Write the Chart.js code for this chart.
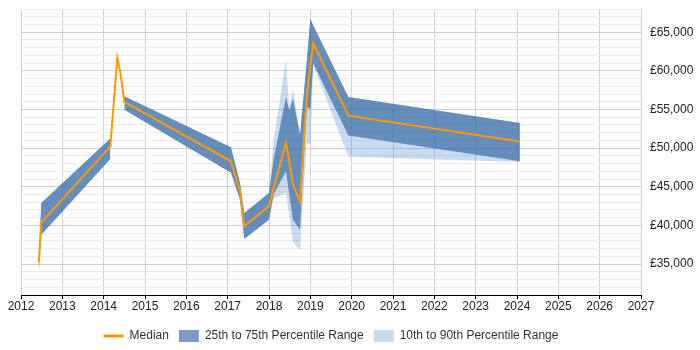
<!DOCTYPE html>
<html>
<head>
<meta charset="utf-8">
<script src="https://cdn.jsdelivr.net/npm/chart.js@4.4.1/dist/chart.umd.min.js"></script>
<style>
  html, body { margin: 0; padding: 0; background: #fff; }
  #wrap { width: 700px; height: 350px; }
</style>
</head>
<body>
<div id="wrap"><canvas id="salaryChart"></canvas></div>
<script>
// --- data ---
const years  = [2012.43, 2012.49, 2014.16, 2014.33, 2014.40, 2014.50, 2017.08, 2017.30, 2017.40, 2018.00, 2018.11, 2018.41, 2018.49, 2018.58, 2018.75, 2018.91, 2019.00, 2019.07, 2019.92, 2024.07];
const median = [35200, 40400, 50200, 61700, 59900, 56000, 48300, 44400, 39900, 42500, 44800, 50700, 48300, 45300, 43100, 56400, 60700, 63570, 54200, 50850];
const p25    = [34300, 38800, 48600, null, null, 54950, 46800, 43300, 38250, 40750, 44000, 47000, 44000, 40750, 39450, 55300, 55100, 60950, 51650, 48300];
const p75    = [35400, 42900, 51250, null, null, 56700, 50100, 45500, 41600, 44200, 48500, 56600, 54900, 56400, 51800, 61000, 66700, 65900, 56600, 53250];
const p10    = [33000, 38800, 48600, null, null, 54950, 46800, 43300, 38250, 40750, 43500, 44200, 41300, 37900, 36800, 50700, 50500, 60850, 48900, 48200];
const p90    = [35400, 42900, 51250, null, null, 56700, 50100, 45500, 41600, 44200, 51000, 61400, 55300, 57700, 51800, 61000, 66700, 65900, 56600, 53250];

const xMin = 2012, xMax = 2027;
const yMin = 31000, yMax = 68000;

const FONT = 'Liberation Sans, Arial, sans-serif';

function pts(arr) {
  return years.map((x, i) => ({ x: x, y: arr[i] }));
}

function money(v) {
  return '£' + String(v).replace(/\B(?=(\d{3})+(?!\d))/g, ',');
}

document.addEventListener('DOMContentLoaded', () => {
  const ctx = document.getElementById('salaryChart');

  new Chart(ctx, {
    type: 'line',
    data: {
      datasets: [
        {
          label: 'Median',
          data: pts(median),
          borderColor: '#FF9900',
          backgroundColor: '#FF9900',
          borderWidth: 2,
          pointRadius: 0,
          pointStyle: 'line',
          tension: 0,
          fill: false
        },
        {
          label: '25th to 75th Percentile Range',
          data: pts(p75),
          borderWidth: 0,
          borderColor: 'rgba(0,0,0,0)',
          backgroundColor: 'rgba(49,101,163,0.65)',
          pointRadius: 0,
          pointStyle: 'rect',
          tension: 0,
          fill: '+1'
        },
        {
          label: 'p25',
          data: pts(p25),
          borderWidth: 0,
          borderColor: 'rgba(0,0,0,0)',
          pointRadius: 0,
          tension: 0,
          fill: false
        },
        {
          label: '10th to 90th Percentile Range',
          data: pts(p90),
          borderWidth: 0,
          borderColor: 'rgba(0,0,0,0)',
          backgroundColor: 'rgba(74,137,204,0.3)',
          pointRadius: 0,
          pointStyle: 'rect',
          tension: 0,
          fill: '+1'
        },
        {
          label: 'p10',
          data: pts(p10),
          borderWidth: 0,
          borderColor: 'rgba(0,0,0,0)',
          pointRadius: 0,
          tension: 0,
          fill: false
        }
      ]
    },
    options: {
      responsive: true,
      maintainAspectRatio: false,
      animation: false,
      layout: { padding: { left: 21, right: 0, top: 9, bottom: -2 } },
      plugins: {
        tooltip: { enabled: false },
        legend: {
          position: 'bottom',
          fullSize: false,
          labels: {
            font: { family: FONT, size: 12 },
            color: '#333',
            padding: 10,
            usePointStyle: true,
            pointStyleWidth: 20,
            filter: (item) => item.datasetIndex !== 2 && item.datasetIndex !== 4,
            generateLabels: (chart) => {
              const items = Chart.defaults.plugins.legend.labels.generateLabels(chart);
              items.forEach(it => {
                if (it.datasetIndex === 0) it.lineWidth = 3;
                else it.lineWidth = 0;
              });
              return items;
            }
          }
        }
      },
      scales: {
        x: {
          type: 'linear',
          min: xMin,
          max: xMax,
          afterFit: (scale) => {
            scale.height = 25;
            scale.paddingLeft = 0;
            scale.paddingRight = 0;
          },
          grid: {
            color: '#d0d0d0',
            tickColor: '#000',
            tickLength: 4
          },
          border: { color: '#000', width: 1 },
          ticks: {
            stepSize: 1,
            padding: 0,
            color: '#222',
            font: { family: FONT, size: 12 },
            callback: (v) => String(v)
          }
        },
        y: {
          position: 'right',
          min: yMin,
          max: yMax,
          afterFit: (scale) => {
            scale.width = 59;
            scale.paddingTop = 0;
            scale.paddingBottom = 0;
          },
          grid: {
            drawTicks: false,
            color: (c) => (c.tick && c.tick.value % 5000 === 0) ? '#d0d0d0' : '#ebebeb'
          },
          border: { display: false },
          ticks: {
            stepSize: 1000,
            autoSkip: false,
            maxTicksLimit: 100,
            padding: 9,
            color: '#222',
            font: { family: FONT, size: 12 },
            callback: (v) => (v % 5000 === 0) ? money(v) : ''
          }
        }
      }
    }
  });
});
</script>
</body>
</html>
